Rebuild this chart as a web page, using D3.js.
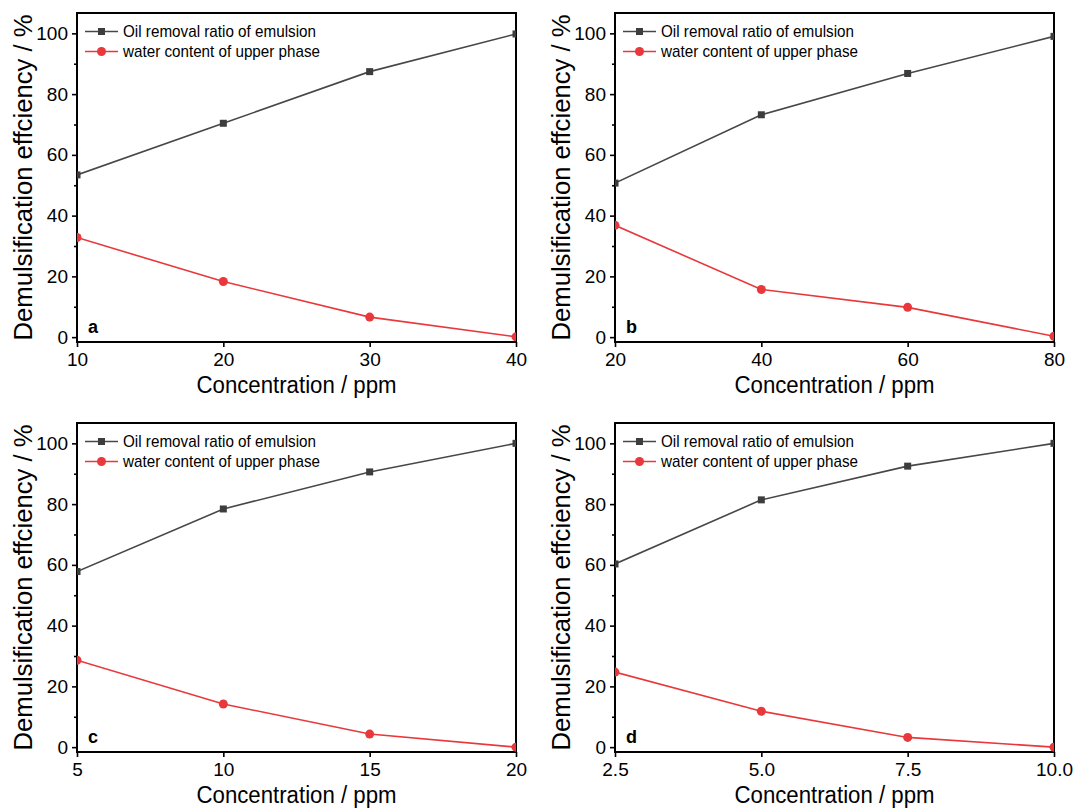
<!DOCTYPE html>
<html>
<head>
<meta charset="utf-8">
<script src="https://cdn.jsdelivr.net/npm/d3@7"></script>
<style>
  body { margin: 0; background: #fff; }
  svg { display: block; }
  text { font-family: "Liberation Sans", Arial, sans-serif; fill: #000; }
</style>
</head>
<body>
<svg id="chart" width="1075" height="812"></svg>
<script>
// data
const panelLabels = ["a", "b", "c", "d"];
const seriesNames = ["Oil removal ratio of emulsion", "water content of upper phase"];

const concA = [10, 20, 30, 40];
const oilA = [53.4, 70.4, 87.4, 99.8];
const waterA = [32.8, 18.3, 6.6, 0.1];

const concB = [20, 40, 60, 80];
const oilB = [50.7, 73.2, 86.8, 99.0];
const waterB = [36.8, 15.7, 9.8, 0.3];

const concC = [5, 10, 15, 20];
const oilC = [57.8, 78.4, 90.6, 100];
const waterC = [28.6, 14.2, 4.3, 0];

const concD = [2.5, 5.0, 7.5, 10.0];
const oilD = [60.3, 81.4, 92.5, 100];
const waterD = [24.7, 11.8, 3.2, 0];

const xTickFormats = ["d", "d", "d", ".1f"];
const yTicks = [0, 20, 40, 60, 80, 100];
const yMinorTicks = [10, 30, 50, 70, 90];

const panels = [
  { label: panelLabels[0], conc: concA, oil: oilA, water: waterA, fmt: xTickFormats[0] },
  { label: panelLabels[1], conc: concB, oil: oilB, water: waterB, fmt: xTickFormats[1] },
  { label: panelLabels[2], conc: concC, oil: oilC, water: waterC, fmt: xTickFormats[2] },
  { label: panelLabels[3], conc: concD, oil: oilD, water: waterD, fmt: xTickFormats[3] }
];

// layout
const lefts = [77, 615, 77, 615];
const tops = [13, 13, 423, 423];
const W = 439, H = 329;
const oilColor = "#474747", oilMarker = "#3d3d3d";
const waterColor = "#e8383b";

const svg = d3.select("#chart");

panels.forEach((p, i) => {
  const g = svg.append("g").attr("transform", `translate(${lefts[i]},${tops[i]})`);

  const x = d3.scaleLinear().domain(d3.extent(p.conc)).range([0, W]);
  const y = d3.scaleLinear().domain([-1.6, 106.7]).range([H, 0]);

  const clipId = "clip-" + p.label;
  g.append("clipPath").attr("id", clipId)
    .append("rect").attr("width", W).attr("height", H);

  // axes
  g.append("g").attr("transform", `translate(0,${H})`)
    .call(d3.axisBottom(x).tickValues(p.conc).tickFormat(d3.format(p.fmt)).tickSize(5).tickPadding(6));
  g.append("g")
    .call(d3.axisLeft(y).tickValues(yTicks).tickSize(5).tickPadding(4));
  g.append("g")
    .call(d3.axisLeft(y).tickValues(yMinorTicks).tickSize(3).tickFormat(""));

  g.selectAll(".domain").remove();
  g.selectAll(".tick line").attr("stroke", "#000").attr("stroke-width", 1.6);
  g.selectAll(".tick text").attr("font-size", 19).attr("font-family", "Liberation Sans, Arial, sans-serif");

  // frame
  g.append("rect").attr("width", W).attr("height", H)
    .attr("fill", "none").attr("stroke", "#000").attr("stroke-width", 2);

  // series
  const plot = g.append("g").attr("clip-path", `url(#${clipId})`);
  const line = d3.line().x(d => x(d[0])).y(d => y(d[1]));
  const oilPts = p.conc.map((c, k) => [c, p.oil[k]]);
  const waterPts = p.conc.map((c, k) => [c, p.water[k]]);

  plot.append("path").datum(oilPts).attr("d", line)
    .attr("fill", "none").attr("stroke", oilColor).attr("stroke-width", 1.6);
  plot.append("path").datum(waterPts).attr("d", line)
    .attr("fill", "none").attr("stroke", waterColor).attr("stroke-width", 1.6);

  plot.selectAll(".sq").data(oilPts).join("rect")
    .attr("x", d => x(d[0]) - 3.5).attr("y", d => y(d[1]) - 3.5)
    .attr("width", 7).attr("height", 7).attr("fill", oilMarker);
  plot.selectAll(".ci").data(waterPts).join("circle")
    .attr("cx", d => x(d[0])).attr("cy", d => y(d[1])).attr("r", 4.5)
    .attr("fill", waterColor);

  // legend
  const lg = g.append("g").attr("transform", "translate(8,18.5)");
  [oilColor, waterColor].forEach((col, k) => {
    const row = lg.append("g").attr("transform", `translate(0,${k * 20})`);
    row.append("line").attr("x1", 0).attr("x2", 33).attr("stroke", col).attr("stroke-width", 1.6);
    if (k === 0) {
      row.append("rect").attr("x", 13).attr("y", -3.5).attr("width", 7).attr("height", 7).attr("fill", oilMarker);
    } else {
      row.append("circle").attr("cx", 16.5).attr("r", 4.5).attr("fill", waterColor);
    }
    row.append("text").attr("x", 38).attr("dy", "0.35em")
      .attr("font-size", 17)
      .attr("textLength", k === 0 ? 193 : 197).attr("lengthAdjust", "spacingAndGlyphs")
      .text(seriesNames[k]);
  });

  // panel letter
  g.append("text").attr("x", 11).attr("y", H - 9)
    .attr("font-size", 18).attr("font-weight", "bold").text(p.label);

  // axis titles
  g.append("text").attr("x", W / 2).attr("y", H + 51)
    .attr("text-anchor", "middle").attr("font-size", 23)
    .attr("textLength", 200).attr("lengthAdjust", "spacingAndGlyphs")
    .text("Concentration / ppm");
  g.append("text")
    .attr("transform", `translate(-45,${H / 2}) rotate(-90)`)
    .attr("text-anchor", "middle").attr("font-size", 26)
    .attr("textLength", 326).attr("lengthAdjust", "spacingAndGlyphs")
    .text("Demulsification effciency / %");
});
</script>
</body>
</html>
